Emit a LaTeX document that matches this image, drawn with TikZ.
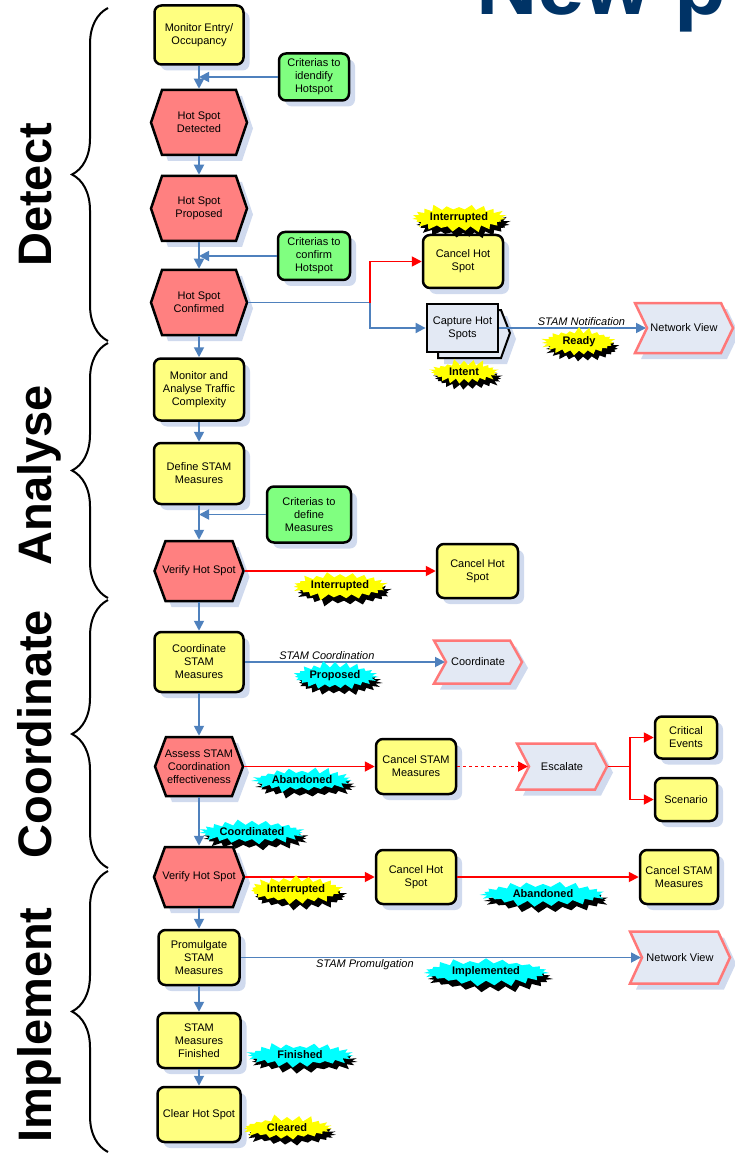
\documentclass[tikz,border=0pt]{standalone}
\usepackage{fontspec}
\setmainfont{Liberation Sans}
\usetikzlibrary{arrows.meta,shapes.symbols,shadows,decorations.pathreplacing,calc}

\definecolor{boxyellow}{RGB}{255,255,128}
\definecolor{boxgreen}{RGB}{128,255,128}
\definecolor{hexred}{RGB}{255,128,128}
\definecolor{chevfill}{RGB}{227,233,244}
\definecolor{chevline}{RGB}{255,120,120}
\definecolor{flowblue}{RGB}{79,129,189}
\definecolor{flowred}{RGB}{255,0,0}
\definecolor{softshade}{RGB}{208,218,238}
\definecolor{titleblue}{RGB}{0,51,102}
\definecolor{burstyellow}{RGB}{255,255,0}
\definecolor{burstcyan}{RGB}{0,255,255}

% hexagonal process step: name, centre x, centre y, width, height, text
\newcommand\hexproc[6]{%
  \pgfmathsetmacro\hexhw{#4/2}%
  \pgfmathsetmacro\hexin{#4/2-11}%
  \pgfmathsetmacro\hexhh{#5/2}%
  \path[hexshape] (#2-\hexhw,#3) -- (#2-\hexin,#3-\hexhh) -- (#2+\hexin,#3-\hexhh)
     -- (#2+\hexhw,#3) -- (#2+\hexin,#3+\hexhh) -- (#2-\hexin,#3+\hexhh) -- cycle;
  \node[shapelabel, minimum width=#4pt, minimum height=#5pt] (#1) at (#2,#3) {#6};
}

% notched arrow-shaped target: name, centre x, centre y, width, height, text
\newcommand\chevproc[6]{%
  \pgfmathsetmacro\chevhw{#4/2}%
  \pgfmathsetmacro\chevhh{#5/2}%
  \path[chevshape] (#2-\chevhw,#3-\chevhh) -- (#2+\chevhw-12,#3-\chevhh) -- (#2+\chevhw,#3)
     -- (#2+\chevhw-12,#3+\chevhh) -- (#2-\chevhw,#3+\chevhh) -- (#2-\chevhw+12,#3) -- cycle;
  \coordinate (#1-in) at (#2-\chevhw+11,#3);
  \node[shapelabel, minimum width=#4pt, minimum height=#5pt] (#1) at (#2,#3) {#6};
}

\begin{document}
\begin{tikzpicture}[x=1pt, y=-1pt,
  every node/.style={font=\fontsize{11}{13}\selectfont, align=center, inner sep=1pt},
  softshadow/.style={drop shadow={fill=softshade, opacity=1, shadow xshift=6pt, shadow yshift=-6pt}},
  procbox/.style={rectangle, draw=black, line width=2.5pt, rounded corners=7pt, softshadow},
  ybox/.style={procbox, fill=boxyellow},
  gbox/.style={procbox, fill=boxgreen},
  hexshape/.style={draw=black, line width=2.5pt, fill=hexred, line join=miter, softshadow},
  chevshape/.style={draw=chevline, line width=2.5pt, fill=chevfill, line join=miter, softshadow},
  shapelabel/.style={rectangle, draw=none, fill=none, outer sep=1.25pt},
  capback/.style={draw=black, line width=2pt, fill=chevfill, line join=miter, softshadow},
  capfront/.style={rectangle, draw=black, line width=2.8pt, fill=chevfill},
  bluelink/.style={draw=flowblue, line width=1.8pt},
  redlink/.style={draw=flowred, line width=1.8pt},
  bluearrow/.style={bluelink, -{Triangle[length=10pt,width=10pt]}},
  redarrow/.style={redlink, -{Triangle[length=10pt,width=10pt]}},
  flowtag/.style={font=\fontsize{11}{13}\selectfont\itshape, inner sep=1pt},
  burst/.style={starburst, starburst points=23, starburst point height=7pt,
    font=\fontsize{11}{13}\selectfont\bfseries, inner sep=1pt,
    drop shadow={fill=black, opacity=1, shadow xshift=4pt, shadow yshift=-6pt}},
  yburst/.style={burst, fill=burstyellow},
  cburst/.style={burst, fill=burstcyan},
  phase/.style={rotate=90, anchor=base, font=\fontsize{47}{50}\selectfont\bfseries, inner sep=0pt},
  phasebrace/.style={draw=black, line width=2pt, decorate, decoration={brace, amplitude=36pt}},
]
\useasboundingbox (0,0) rectangle (734,1155);

% ---------- Detect ----------
\node[ybox, minimum width=89pt, minimum height=59pt] (monEntry) at (199,35) {Monitor Entry/\\Occupancy};
\node[gbox, minimum width=70pt, minimum height=47pt] (critIdent) at (314,77) {Criterias to\\idendify\\Hotspot};
\hexproc{hsDetected}{199}{122.5}{96}{65}{Hot Spot\\Detected}
\hexproc{hsProposed}{199}{208.5}{96}{65}{Hot Spot\\Proposed}
\node[gbox, minimum width=72pt, minimum height=48pt] (critConfirm) at (314,256) {Criterias to\\confirm\\Hotspot};
\hexproc{hsConfirmed}{199}{302.5}{96}{65}{Hot Spot\\Confirmed}
\node[ybox, minimum width=80pt, minimum height=53pt] (cancelA) at (463,261.5) {Cancel Hot\\Spot};
\path[capback] (438,310) -- (501,310) -- (510,333) -- (501,358) -- (438,358) -- cycle;
\node[capfront, minimum width=71pt, minimum height=48pt] (capture) at (462.5,328) {Capture Hot\\Spots};
\chevproc{netA}{684}{328}{98}{50}{Network View}

% ---------- Analyse ----------
\node[ybox, minimum width=90pt, minimum height=62pt] (monAnalyse) at (199,389.5) {Monitor and\\Analyse Traffic\\Complexity};
\node[ybox, minimum width=90pt, minimum height=61pt] (defineStam) at (199,473.5) {Define STAM\\Measures};
\node[gbox, minimum width=84pt, minimum height=56pt] (critDefine) at (309,514.5) {Criterias to\\define\\Measures};
\hexproc{verifyA}{199}{571}{89}{60}{Verify Hot Spot}
\node[ybox, minimum width=81pt, minimum height=54pt] (cancelB) at (477.5,571) {Cancel Hot\\Spot};

% ---------- Coordinate ----------
\node[ybox, minimum width=89pt, minimum height=60pt] (coordStam) at (199,662) {Coordinate\\STAM\\Measures};
\chevproc{coordChev}{478}{662}{88}{43}{Coordinate}
\hexproc{assess}{199}{766.5}{88}{59}{Assess STAM\\Coordination\\effectiveness}
\node[ybox, minimum width=80pt, minimum height=55pt] (cancelStamA) at (416,766.5) {Cancel STAM\\Measures};
\chevproc{escalate}{562}{766.5}{90}{46}{Escalate}
\node[ybox, minimum width=62pt, minimum height=42pt] (critEvents) at (686,737.5) {Critical\\Events};
\node[ybox, minimum width=62pt, minimum height=43pt] (scenario) at (686,799.5) {Scenario};

% ---------- Implement ----------
\hexproc{verifyB}{199}{877}{90}{60}{Verify Hot Spot}
\node[ybox, minimum width=80pt, minimum height=54pt] (cancelC) at (416,877) {Cancel Hot\\Spot};
\node[ybox, minimum width=78pt, minimum height=54pt] (cancelStamB) at (679,877) {Cancel STAM\\Measures};
\node[ybox, minimum width=81pt, minimum height=55pt] (promulgate) at (199,957.5) {Promulgate\\STAM\\Measures};
\chevproc{netB}{680}{957.5}{100}{52}{Network View}
\node[ybox, minimum width=83pt, minimum height=55pt] (finishedBox) at (199,1040.5) {STAM\\Measures\\Finished};
\node[ybox, minimum width=83pt, minimum height=55pt] (clearBox) at (199,1114.5) {Clear Hot Spot};

% ---------- connectors ----------
\draw[bluearrow] (monEntry.south) -- (hsDetected.north);
\draw[bluearrow] (critIdent.west) -- (critIdent.west -| monEntry.south);
\draw[bluearrow] (hsDetected.south) -- (hsProposed.north);
\draw[bluearrow] (hsProposed.south) -- (hsConfirmed.north);
\draw[bluearrow] (critConfirm.west) -- (critConfirm.west -| hsProposed.south);
\coordinate (forkA) at (370,302.5);
\draw[bluearrow] (hsConfirmed.east) -- (forkA) |- (capture.west);
\draw[redarrow] (forkA) |- (cancelA.west);
\draw[bluearrow] (capture.east) -- node[flowtag, above, pos=0.56] (tagNotif) {STAM Notification} (netA-in);
\draw[bluearrow] (hsConfirmed.south) -- (monAnalyse.north);
\draw[bluearrow] (monAnalyse.south) -- (defineStam.north);
\draw[bluearrow] (defineStam.south) -- (verifyA.north);
\draw[bluearrow] (critDefine.west) -- (critDefine.west -| defineStam.south);
\draw[redarrow] (verifyA.east) -- (cancelB.west);
\draw[bluearrow] (verifyA.south) -- (coordStam.north);
\draw[bluearrow] (coordStam.east) -- node[flowtag, above, pos=0.41] (tagCoord) {STAM Coordination} (coordChev-in);
\draw[bluearrow] (coordStam.south) -- (assess.north);
\draw[redarrow] (assess.east) -- (cancelStamA.west);
\draw[redarrow, dash pattern=on 3pt off 3pt] (cancelStamA.east) -- (escalate-in);
\coordinate (forkB) at (630,766.5);
\draw[redlink] (escalate.east) -- (forkB);
\draw[redarrow] (forkB) |- (critEvents.west);
\draw[redarrow] (forkB) |- (scenario.west);
\draw[bluearrow] (assess.south) -- (verifyB.north);
\draw[redarrow] (verifyB.east) -- (cancelC.west);
\draw[redarrow] (cancelC.east) -- (cancelStamB.west);
\draw[bluearrow] (verifyB.south) -- (promulgate.north);
\draw[bluearrow] (promulgate.east) -- node[flowtag, below, pos=0.31] (tagProm) {STAM Promulgation} (netB-in);
\draw[bluearrow] (promulgate.south) -- (finishedBox.north);
\draw[bluearrow] (finishedBox.south) -- (clearBox.north);

% ---------- state bursts ----------
\node[yburst, random starburst=3] (bIntA) at (459,218) {Interrupted};
\node[yburst, random starburst=5, minimum width=74pt] (bIntent) at (464,372) {Intent};
\node[yburst, random starburst=7, minimum width=78pt] (bReady) at (579,342) {Ready};
\node[yburst, random starburst=9] (bIntB) at (340,586) {Interrupted};
\node[cburst, random starburst=11] (bProposed) at (335,676) {Proposed};
\node[cburst, random starburst=13] (bAbandA) at (302,780) {Abandoned};
\node[cburst, random starburst=15] (bCoordinated) at (252,832) {Coordinated};
\node[yburst, random starburst=17] (bIntC) at (296,890) {Interrupted};
\node[cburst, random starburst=19, minimum width=128pt] (bAbandB) at (543,894) {Abandoned};
\node[cburst, random starburst=21, minimum width=128pt] (bImpl) at (486,972) {Implemented};
\node[cburst, random starburst=23, minimum width=110pt] (bFinished) at (300,1055) {Finished};
\node[yburst, random starburst=25, minimum width=94pt] (bCleared) at (287,1128) {Cleared};

% ---------- phases ----------
\draw[phasebrace] (108,341) -- (108,8);
\draw[phasebrace] (108,598) -- (108,343);
\draw[phasebrace] (108,868) -- (108,600);
\draw[phasebrace] (108,1152) -- (108,871);
\node[phase] (phDetect) at (51,195) {Detect};
\node[phase] (phAnalyse) at (51,475) {Analyse};
\node[phase] (phCoordinate) at (51,734) {Coordinate};
\node[phase] (phImplement) at (51,1025) {Implement};

% ---------- heading ----------
\node[anchor=base west, inner sep=0pt, font=\fontsize{85}{90}\selectfont\bfseries, text=titleblue] (heading) at (476,15) {New p};
\end{tikzpicture}
\end{document}
